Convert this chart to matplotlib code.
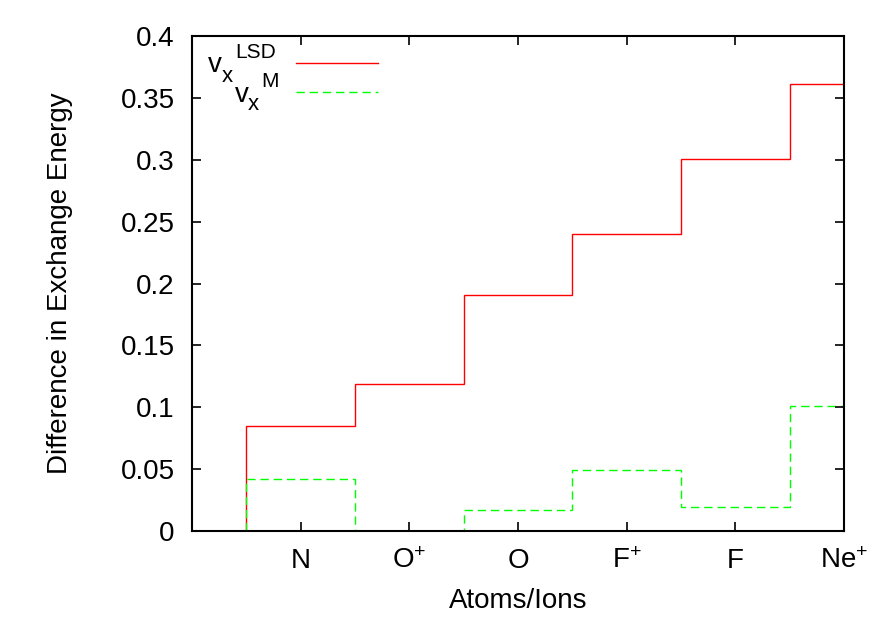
import matplotlib
matplotlib.use('Agg')
from matplotlib import pyplot as plt
from matplotlib.lines import Line2D
import numpy as np

plt.rcParams['font.family'] = ['Liberation Sans', 'DejaVu Sans']
plt.rcParams['mathtext.fontset'] = 'custom'
plt.rcParams['mathtext.rm'] = 'Liberation Sans'
plt.rcParams['mathtext.it'] = 'Liberation Sans'
plt.rcParams['font.size'] = 20

atoms = ['N', r'O$^{+}$', 'O', r'F$^{+}$', 'F', r'Ne$^{+}$']
pos = [1, 2, 3, 4, 5, 6]
lsd = [0.085, 0.119, 0.191, 0.240, 0.301, 0.361]
vm = [0.042, 0.0, 0.017, 0.049, 0.019, 0.101]

W, H = 888, 623
fig = plt.figure(figsize=(W / 100, H / 100), dpi=100)
ax = fig.add_axes([192 / W, 1 - 531 / H, (844 - 192) / W, (531 - 36) / H])

edges = np.append(np.array(pos) - 0.5, pos[-1] + 0.5)
red_kw = dict(color='#ff0000', lw=1.0)
green_kw = dict(color='#00ff00', lw=1.0, linestyle=(0, (6, 3.5)))
ax.stairs(lsd, edges, baseline=0, **red_kw)
ax.stairs(vm, edges, baseline=0, **green_kw)

ax.set_xlim(0, 6)
ax.set_ylim(0, 0.4)
ax.set_xticks(pos)
ax.set_xticklabels(atoms)
ax.set_yticks(np.arange(0, 0.41, 0.05))
ax.set_yticklabels(['0', '0.05', '0.1', '0.15', '0.2', '0.25', '0.3', '0.35', '0.4'])
ax.tick_params(direction='in', length=6.5, width=1.2, top=True, right=True, pad=12.5)
for s in ax.spines.values():
    s.set_linewidth(1.5)

ax.set_xlabel('Atoms/Ions', labelpad=10)
ax.set_ylabel('Difference in Exchange Energy', labelpad=34)

# key, drawn by hand the way gnuplot lays it out
def px(x, y):
    return x / W, 1 - y / H

def key_label(x, y, sub, sup, x_sub, x_sup, dy_sub, dy_sup):
    fig.text(*px(x, y), 'v', fontsize=20, va='baseline')
    fig.text(*px(x_sub, y + dy_sub), sub, fontsize=16, va='baseline')
    fig.text(*px(x_sup, y - dy_sup), sup, fontsize=15, va='baseline')

key_label(208, 72, 'x', 'LSD', 222, 235, 10, 14)
key_label(235, 102, 'x', 'M', 248, 261, 8, 15)
for yk, kw in [(63, red_kw), (92, green_kw)]:
    x0, y0 = px(296, yk)
    x1, _ = px(378, yk)
    fig.add_artist(Line2D([x0, x1], [y0, y0], transform=fig.transFigure, **kw))

fig.savefig('out.png', dpi=100)
